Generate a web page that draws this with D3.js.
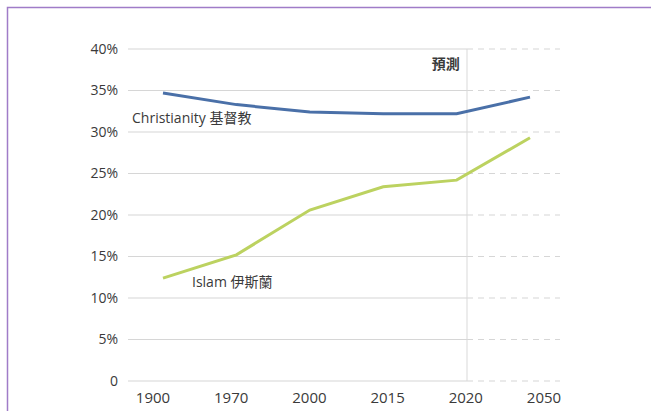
<!DOCTYPE html>
<html>
<head>
<meta charset="utf-8">
<script src="https://cdn.jsdelivr.net/npm/d3@7"></script>
<style>
  body { margin: 0; background: #fff; }
  text { font-family: "Open Sans", "Noto Sans CJK TC", sans-serif; fill: #3a3a3a; }
</style>
</head>
<body>
<div id="chart"></div>
<script>
// data
var years = ["1900", "1970", "2000", "2015", "2020", "2050"];
var christianity = [34.7, 33.3, 32.4, 32.2, 32.2, 34.2];
var islam = [12.4, 15.2, 20.6, 23.4, 24.2, 29.3];
var yTicks = [0, 5, 10, 15, 20, 25, 30, 35, 40];
var forecastFrom = "2020";

var width = 651, height = 411;

var svg = d3.select("#chart")
  .append("svg")
  .attr("width", width)
  .attr("height", height);

// purple frame, only top and left are visible in the shot
svg.append("path")
  .attr("d", "M7.5," + height + "V7.5H" + width)
  .attr("fill", "none")
  .attr("stroke", "#a07cc8")
  .attr("stroke-width", 1.5);

var y = d3.scaleLinear().domain([0, 40]).range([381, 49]);
// labels and points sit on slightly different grids in the original
var xLabel = d3.scalePoint().domain(years).range([153, 544]);
var xPoint = d3.scalePoint().domain(years).range([163, 530]);

var gridLeft = 128, splitX = 467, gridRight = 560;

// solid grid part
svg.append("g").selectAll("line")
  .data(yTicks)
  .enter().append("line")
  .attr("x1", gridLeft).attr("x2", splitX)
  .attr("y1", function(d) { return y(d); })
  .attr("y2", function(d) { return y(d); })
  .attr("stroke", "#d6d6d6")
  .attr("stroke-width", 1.2);

// dashed forecast part
svg.append("g").selectAll("line")
  .data(yTicks)
  .enter().append("line")
  .attr("x1", splitX).attr("x2", gridRight)
  .attr("y1", function(d) { return y(d); })
  .attr("y2", function(d) { return y(d); })
  .attr("stroke", "#d6d6d6")
  .attr("stroke-width", 1.2)
  .attr("stroke-dasharray", "6,5");

svg.append("line")
  .attr("x1", splitX).attr("x2", splitX)
  .attr("y1", y(40)).attr("y2", y(0))
  .attr("stroke", "#d9d9d9")
  .attr("stroke-width", 1);

// y labels
svg.append("g").selectAll("text")
  .data(yTicks)
  .enter().append("text")
  .attr("x", 118)
  .attr("y", function(d) { return y(d); })
  .attr("dy", "0.35em")
  .attr("text-anchor", "end")
  .style("font-size", "14px")
  .text(function(d) { return d === 0 ? "0" : d + "%"; });

// x labels
svg.append("g").selectAll("text")
  .data(years)
  .enter().append("text")
  .attr("x", function(d) { return xLabel(d); })
  .attr("y", 398)
  .attr("dy", "0.35em")
  .attr("text-anchor", "middle")
  .style("font-size", "15px")
  .text(function(d) { return d; });

var line = d3.line()
  .x(function(d, i) { return xPoint(years[i]); })
  .y(function(d) { return y(d); });

svg.append("path")
  .datum(christianity)
  .attr("d", line)
  .attr("fill", "none")
  .attr("stroke", "#4a70a8")
  .attr("stroke-width", 3);

svg.append("path")
  .datum(islam)
  .attr("d", line)
  .attr("fill", "none")
  .attr("stroke", "#bcd260")
  .attr("stroke-width", 3);

svg.append("text")
  .attr("x", 132).attr("y", 118)
  .attr("dy", "0.35em")
  .style("font-size", "14px")
  .text("Christianity 基督教");

svg.append("text")
  .attr("x", 192).attr("y", 282)
  .attr("dy", "0.35em")
  .style("font-size", "14px")
  .text("Islam 伊斯蘭");

svg.append("text")
  .attr("x", xLabel(forecastFrom) - 6).attr("y", 64)
  .attr("dy", "0.35em")
  .attr("text-anchor", "end")
  .style("font-size", "14px")
  .style("font-weight", "bold")
  .text("預測");
</script>
</body>
</html>
